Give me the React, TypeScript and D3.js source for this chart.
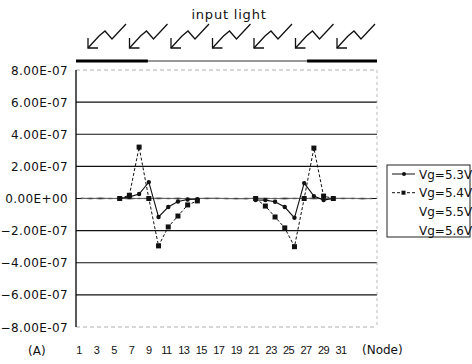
import * as d3 from "d3";

// node numbers (categories)
const nodes = d3.range(1, 32);

// series values, in units of 1E-07 (null = no point)
const vg53 = [null, null, null, null, 0.0, 0.1, 0.28, 1.02, -1.15, -0.53, -0.19, -0.06, -0.05, null, null, null, null, null, -0.09, -0.1, -0.2, -0.53, -1.2, 0.96, 0.15, -0.1, 0, null, null, null, null];
const vg54 = [null, null, null, null, 0.0, 0.2, 3.2, 0.0, -2.95, -1.77, -1.09, -0.4, -0.15, null, null, null, null, null, 0, -0.47, -1.15, -1.83, -3.0, 0.0, 3.14, 0.15, 0, null, null, null, null];
const vg55 = [0.04, -0.03, 0.05, -0.02, 0.03, -0.04, 0.02, -0.03, 0.05, -0.02, 0.04, -0.05, 0.03, -0.02, 0.04, -0.03, 0.02, -0.04, 0.05, -0.03, 0.02, -0.04, 0.03, -0.02, 0.05, -0.03, 0.04, -0.02, 0.03, -0.04, 0.02];
const vg56 = [-0.02, 0.04, -0.04, 0.03, -0.03, 0.05, -0.02, 0.04, -0.03, 0.03, -0.04, 0.02, -0.03, 0.05, -0.02, 0.03, -0.05, 0.03, -0.02, 0.04, -0.03, 0.05, -0.02, 0.03, -0.04, 0.02, -0.03, 0.04, -0.02, 0.03, -0.03];

const seriesNames = ["Vg=5.3V", "Vg=5.4V", "Vg=5.5V", "Vg=5.6V"];
const yTicks = [8, 6, 4, 2, 0, -2, -4, -6, -8];
const xTickLabels = d3.range(1, 32, 2);
// light mask bar: dark segments (in node units)
const darkRanges = [[0.5, 7.9], [24.3, 31.5]];
const arrowCount = 7;

const W = 472;
const H = 364;
const plot = { left: 76, right: 377, top: 70, bottom: 327 };
const font = "'DejaVu Sans', Arial, sans-serif";

const fmt = (v: number) => {
  if (v === 0) return "0.00E+00";
  const s = d3.format(".2e")(v * 1e-7); // e.g. 8.00e-7
  const [m, e] = s.split("e");
  const ev = +e;
  return `${m}E${ev < 0 ? "-" : "+"}${String(Math.abs(ev)).padStart(2, "0")}`;
};

export default function App() {
  const x = d3.scaleLinear().domain([0.5, 31.5]).range([plot.left, plot.right]);
  // tick labels were laid out on their own row
  const xLab = d3.scaleLinear().domain([1, 31]).range([79, 341]);
  const y = d3.scaleLinear().domain([-8, 8]).range([plot.bottom, plot.top]);

  const line = d3
    .line<number | null>()
    .defined((d) => d !== null)
    .x((_, i) => x(nodes[i]))
    .y((d) => y(d as number));

  const arrowX = d3.scalePoint<number>().domain(d3.range(arrowCount)).range([88, 337]);

  const pts = (vals: (number | null)[]) =>
    vals.map((v, i) => ({ v, n: nodes[i] })).filter((d) => d.v !== null) as { v: number; n: number }[];

  return (
    <svg width={W} height={H} style={{ position: "absolute", left: 0, top: 0, background: "#fff" }}>
      {/* title and light arrows */}
      <text x={229} y={19} textAnchor="middle" fontFamily={font} fontSize={13} letterSpacing={0.8} fill="#111">
        input light
      </text>
      {arrowX.domain().map((k) => {
        const x0 = arrowX(k) as number;
        const y0 = 24;
        return (
          <g key={k} fill="none" stroke="#111" strokeWidth={1.3}>
            <path d={`M${x0},${y0 + 24} L${x0 + 11},${y0 + 12} L${x0 + 17},${y0 + 7} L${x0 + 24},${y0 + 15} L${x0 + 38},${y0}`} />
            <path d={`M${x0},${y0 + 14} L${x0},${y0 + 24} L${x0 + 10},${y0 + 24}`} />
          </g>
        );
      })}
      {/* mask bar */}
      <line x1={x(0.5)} x2={x(31.5)} y1={61} y2={61} stroke="#333" strokeWidth={1} />
      {darkRanges.map(([a, b], i) => (
        <line key={i} x1={x(a)} x2={x(b)} y1={61} y2={61} stroke="#000" strokeWidth={3.2} />
      ))}

      {/* grid */}
      {yTicks.map((t) => {
        const edge = t === 8 || t === -8;
        return (
          <line
            key={t}
            x1={plot.left}
            x2={plot.right}
            y1={y(t)}
            y2={y(t)}
            stroke={edge ? "#999" : "#111"}
            strokeWidth={edge ? 0.8 : 1.2}
            strokeDasharray={edge ? "4,3" : undefined}
          />
        );
      })}
      <line x1={plot.right} x2={plot.right} y1={plot.top} y2={plot.bottom} stroke="#aaa" strokeWidth={0.8} strokeDasharray="3,3" />
      <line x1={plot.left} x2={plot.left} y1={plot.top} y2={plot.bottom} stroke="#000" strokeWidth={1.3} />

      {/* y labels */}
      {yTicks.map((t) => (
        <text key={t} x={68} y={y(t) + 4.5} textAnchor="end" fontFamily={font} fontSize={12} letterSpacing={0.4} fill="#111">
          {fmt(t)}
        </text>
      ))}

      {/* x labels */}
      {xTickLabels.map((n) => (
        <text key={n} x={xLab(n)} y={354} textAnchor="middle" fontFamily="'Liberation Sans', Arial, sans-serif" fontSize={11} letterSpacing={-0.6} fill="#111">
          {n}
        </text>
      ))}
      <text x={28} y={355} fontFamily={font} fontSize={12} fill="#111">(A)</text>
      <text x={362} y={354} fontFamily={font} fontSize={12} fill="#111">(Node)</text>

      {/* noise series */}
      <path d={line(vg55) ?? ""} fill="none" stroke="#555" strokeWidth={0.8} />
      <path d={line(vg56) ?? ""} fill="none" stroke="#777" strokeWidth={0.8} />

      {/* Vg=5.4V dashed with squares */}
      <path d={line(vg54) ?? ""} fill="none" stroke="#111" strokeWidth={1} strokeDasharray="3,2" />
      {pts(vg54).map((d) => (
        <rect key={d.n} x={x(d.n) - 2.5} y={y(d.v) - 2.5} width={5} height={5} fill="#111" />
      ))}

      {/* Vg=5.3V solid with dots */}
      <path d={line(vg53) ?? ""} fill="none" stroke="#111" strokeWidth={1.1} />
      {pts(vg53).map((d) => (
        <circle key={d.n} cx={x(d.n)} cy={y(d.v)} r={2.2} fill="#111" />
      ))}

      {/* legend */}
      <rect x={387} y={165} width={83} height={72} fill="#fff" stroke="#222" strokeWidth={1} />
      {seriesNames.map((s, i) => {
        const ly = 174 + i * 18.7;
        return (
          <g key={s}>
            {i === 0 && (
              <g>
                <line x1={392} x2={415} y1={ly} y2={ly} stroke="#111" strokeWidth={1} />
                <circle cx={404} cy={ly} r={2} fill="#111" />
              </g>
            )}
            {i === 1 && (
              <g>
                <line x1={392} x2={415} y1={ly} y2={ly} stroke="#111" strokeWidth={1} strokeDasharray="3,2" />
                <rect x={401.5} y={ly - 2} width={4} height={4} fill="#111" />
              </g>
            )}
            <text x={419} y={ly + 4.5} fontFamily={font} fontSize={12} fill="#111">
              {s}
            </text>
          </g>
        );
      })}
    </svg>
  );
}
